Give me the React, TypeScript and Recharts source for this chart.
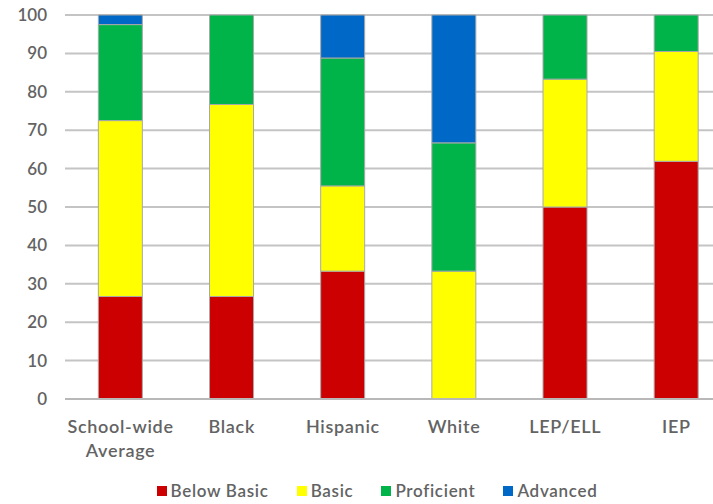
import React from "react";
import { BarChart, Bar, XAxis, YAxis, CartesianGrid, Legend } from "recharts";

// Performance level shares (%) per student group
const categories = ["School-wide Average", "Black", "Hispanic", "White", "LEP/ELL", "IEP"];
const belowBasic = [26.7, 26.7, 33.3, 0, 50.0, 61.9];
const basic = [45.8, 50.0, 22.2, 33.3, 33.3, 28.6];
const proficient = [25.0, 23.3, 33.3, 33.4, 16.7, 9.5];
const advanced = [2.5, 0, 11.2, 33.3, 0, 0];
const yTicks = [0, 10, 20, 30, 40, 50, 60, 70, 80, 90, 100];

const seriesDefs = [
  { key: "Below Basic", values: belowBasic, color: "#CC0000" },
  { key: "Basic", values: basic, color: "#FFFF00" },
  { key: "Proficient", values: proficient, color: "#00B44A" },
  { key: "Advanced", values: advanced, color: "#0068C6" },
];

const data = categories.map((name, i) => {
  const row: Record<string, string | number> = { name };
  seriesDefs.forEach((s) => {
    row[s.key] = s.values[i];
  });
  return row;
});

const TEXT = "#636363";
const FONT = "Lato, 'Noto Sans', sans-serif";

const CategoryTick = (props: any) => {
  const { x, y, payload } = props;
  const lines = String(payload.value).split(" ");
  return (
    <text
      x={x}
      y={y + 26}
      textAnchor="middle"
      fill={TEXT}
      fontSize={18}
      fontWeight={600}
      fontFamily={FONT}
      letterSpacing={0.7}
    >
      {lines.map((line, i) => (
        <tspan key={i} x={x} dy={i === 0 ? 0 : 24}>
          {line}
        </tspan>
      ))}
    </text>
  );
};

const LegendContent = () => (
  <div
    style={{
      display: "flex",
      justifyContent: "center",
      alignItems: "center",
      paddingLeft: 22,
      paddingTop: 3,
      height: 27,
      fontFamily: FONT,
      fontSize: 17,
      fontWeight: 600,
      letterSpacing: 0.7,
      color: TEXT,
    }}
  >
    {seriesDefs.map((s, i) => (
      <div
        key={s.key}
        style={{
          display: "flex",
          alignItems: "center",
          marginRight: i < seriesDefs.length - 1 ? 28 : 0,
        }}
      >
        <span
          style={{
            display: "inline-block",
            width: 10,
            height: 10,
            background: s.color,
            marginRight: 4,
          }}
        />
        <span>{s.key}</span>
      </div>
    ))}
  </div>
);

export default function App() {
  return (
    <div style={{ width: 713, height: 504, overflow: "hidden", background: "#fff" }}>
      <style>{"body{margin:0;overflow:hidden;}"}</style>
      <BarChart
        width={740}
        height={504}
        data={data}
        margin={{ top: 15, right: 8, left: 0, bottom: 0 }}
        barCategoryGap="30%"
      >
        <CartesianGrid vertical={false} stroke="#C4C4C4" strokeWidth={2} />
        <XAxis
          dataKey="name"
          height={75}
          tickLine={false}
          axisLine={{ stroke: "#B8B8B8", strokeWidth: 2 }}
          tick={<CategoryTick />}
          interval={0}
        />
        <YAxis
          width={65}
          domain={[0, 100]}
          ticks={yTicks}
          tickLine={false}
          axisLine={false}
          tickMargin={12}
          tick={{ fill: TEXT, fontSize: 17, fontWeight: 600, fontFamily: FONT }}
        />
        <Legend verticalAlign="bottom" wrapperStyle={{ height: 30 }} content={<LegendContent />} />
        {seriesDefs.map((s) => (
          <Bar
            key={s.key}
            dataKey={s.key}
            stackId="a"
            fill={s.color}
            stroke="#A8A8A8"
            strokeWidth={1}
            isAnimationActive={false}
          />
        ))}
      </BarChart>
    </div>
  );
}
